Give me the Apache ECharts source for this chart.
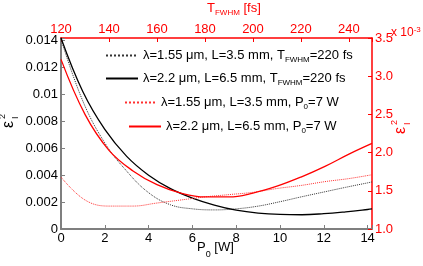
<!DOCTYPE html>
<html><head><meta charset="utf-8">
<script src="https://cdn.jsdelivr.net/npm/echarts@6/dist/echarts.min.js"></script>
<style>html,body{margin:0;padding:0;background:#fff}#c{width:423px;height:266px}</style>
</head><body><div id="c"></div>
<script>
// Bottom axis: P0 [W]; left axis: eps^2 (black curves, T_FWHM = 220 fs)
const P0 = [0, 1, 2, 3, 4, 5, 6, 7, 8, 9, 10, 11, 12, 13, 14, 14.2];
const blackDotted = [0.0141, 0.0095, 0.0064, 0.0043, 0.0027, 0.0018, 0.0015, 0.00142, 0.0015, 0.0017, 0.00203, 0.0024, 0.00275, 0.0031, 0.00343, 0.0035];
const blackSolid = [0.0142, 0.0102, 0.0074, 0.0054, 0.0040, 0.0030, 0.0023, 0.00178, 0.0014, 0.00118, 0.00108, 0.00106, 0.00114, 0.00128, 0.00145, 0.00149];
// Top axis: T_FWHM [fs]; right axis: eps^2 x 10^-3 (red curves, P0 = 7 W)
const TFWHM = [120, 130, 140, 150, 160, 170, 180, 190, 200, 210, 220, 230, 240, 249.6];
const redDotted = [1.68, 1.38, 1.30, 1.30, 1.34, 1.38, 1.42, 1.45, 1.48, 1.53, 1.57, 1.62, 1.66, 1.71];
const redSolid = [3.22, 2.50, 2.03, 1.76, 1.58, 1.47, 1.42, 1.42, 1.47, 1.56, 1.68, 1.82, 1.98, 2.12];
const legendParts = [
  ['λ=1.55 μm, L=3.5 mm, T', 'FWHM', '=220 fs'],
  ['λ=2.2 μm, L=6.5 mm, T', 'FWHM', '=220 fs'],
  ['λ=1.55 μm, L=3.5 mm, P', '0', '=7 W'],
  ['λ=2.2 μm, L=6.5 mm, P', '0', '=7 W']
];
const seriesNames = legendParts.map(p => p.join(''));

const FONT = 'Liberation Sans';
const RED = '#ff0000';
const GRAY = '#7f7f7f';
const zip = (xs, ys) => xs.map((x, i) => [x, ys[i]]);
const isMult = (v, step) => Math.abs(v / step - Math.round(v / step)) < 1e-6;

const richLegend = {
  a: {fontSize: 13, fontFamily: FONT, color: '#000', lineHeight: 16},
  s: {fontSize: 8, fontFamily: FONT, color: '#000', lineHeight: 8, verticalAlign: 'bottom'}
};
function legendFor(i, left, top, width) {
  return {
    data: [seriesNames[i]], left: left, top: top, padding: 0, itemGap: 0,
    itemWidth: width, itemHeight: 12, selectedMode: false,
    itemStyle: {opacity: 0, borderWidth: 0},
    formatter: name => {
      const p = legendParts[seriesNames.indexOf(name)];
      return '{a|' + p[0] + '}{s|' + p[1] + '}{a|' + p[2] + '}';
    },
    textStyle: {rich: richLegend, fontFamily: FONT, fontSize: 13}
  };
}

const chart = echarts.init(document.getElementById('c'));
chart.setOption({
  animation: false,
  backgroundColor: '#fff',
  grid: {left: 61, right: 51, top: 38, bottom: 37, containLabel: false, outerBoundsMode: 'none'},
  xAxis: [
    {type: 'value', position: 'bottom', min: 0, max: 14.2, interval: 2,
      axisLine: {show: true, lineStyle: {color: GRAY, width: 2}},
      axisTick: {show: true, inside: true, length: 4, lineStyle: {color: GRAY}},
      axisLabel: {color: '#000', fontSize: 13, fontFamily: FONT, margin: 3,
        formatter: v => isMult(v, 2) ? String(v) : ''},
      splitLine: {show: false}},
    {type: 'value', position: 'top', min: 120, max: 249.6, interval: 20,
      axisLine: {show: true, lineStyle: {color: RED, width: 1.5}},
      axisTick: {show: true, inside: true, length: 4, lineStyle: {color: RED}},
      axisLabel: {color: RED, fontSize: 13, fontFamily: FONT, margin: 2,
        formatter: v => isMult(v, 20) ? String(v) : ''},
      splitLine: {show: false}}
  ],
  yAxis: [
    {type: 'value', position: 'left', min: 0, max: 0.0142, interval: 0.002,
      axisLine: {show: true, lineStyle: {color: GRAY, width: 2}},
      axisTick: {show: true, inside: true, length: 4, lineStyle: {color: GRAY}},
      axisLabel: {color: '#000', fontSize: 13, fontFamily: FONT, margin: 3,
        formatter: v => isMult(v, 0.002) ? String(+v.toFixed(3)) : ''},
      splitLine: {show: false}},
    {type: 'value', position: 'right', min: 1.0, max: 3.5, interval: 0.5,
      axisLine: {show: true, lineStyle: {color: RED, width: 1.5}},
      axisTick: {show: true, inside: true, length: 4, lineStyle: {color: RED}},
      axisLabel: {color: RED, fontSize: 13, fontFamily: FONT, margin: 3,
        formatter: v => isMult(v, 0.5) ? v.toFixed(1) : ''},
      splitLine: {show: false}}
  ],
  legend: [
    legendFor(0, 105, 49, 32),
    legendFor(1, 105, 72, 32),
    legendFor(2, 124, 96, 31),
    legendFor(3, 128, 120, 32)
  ],
  series: [
    {name: seriesNames[0], type: 'line', xAxisIndex: 0, yAxisIndex: 0, data: zip(P0, blackDotted),
      smooth: 0.4, symbol: 'none', lineStyle: {color: '#333', width: 1, type: 'dotted'}, itemStyle: {color: '#333'}},
    {name: seriesNames[1], type: 'line', xAxisIndex: 0, yAxisIndex: 0, data: zip(P0, blackSolid),
      smooth: 0.4, symbol: 'none', lineStyle: {color: '#000', width: 1.3}, itemStyle: {color: '#000'}},
    {name: seriesNames[2], type: 'line', xAxisIndex: 1, yAxisIndex: 1, data: zip(TFWHM, redDotted),
      smooth: 0.4, symbol: 'none', lineStyle: {color: '#ff3030', width: 1, type: 'dotted'}, itemStyle: {color: '#ff3030'}},
    {name: seriesNames[3], type: 'line', xAxisIndex: 1, yAxisIndex: 1, data: zip(TFWHM, redSolid),
      smooth: 0.4, symbol: 'none', lineStyle: {color: RED, width: 1.3}, itemStyle: {color: RED}}
  ],
  graphic: [
    {type: 'text', left: 207, top: 2, style: {
      text: '{a|T}{s|FWHM}{a| [fs]}',
      rich: {a: {fontSize: 13, fontFamily: FONT, fill: RED, lineHeight: 16},
             s: {fontSize: 8, fontFamily: FONT, fill: RED, lineHeight: 8, verticalAlign: 'bottom'}}}},
    {type: 'text', left: 197, top: 241, style: {
      text: '{a|P}{s|0}{a| [W]}',
      rich: {a: {fontSize: 13, fontFamily: FONT, fill: '#000', lineHeight: 16},
             s: {fontSize: 9, fontFamily: FONT, fill: '#000', lineHeight: 9, verticalAlign: 'bottom', padding: [0, 0, -4, 0]}}}},
    {type: 'text', left: 391, top: 26, style: {
      text: '{a|x 10}{s|-3}',
      rich: {a: {fontSize: 12, fontFamily: FONT, fill: RED, lineHeight: 14},
             s: {fontSize: 8, fontFamily: FONT, fill: RED, lineHeight: 8, verticalAlign: 'top'}}}},
    {type: 'group', x: 9, y: 128, rotation: Math.PI / 2, children: [
      {type: 'text', x: 0, y: 0, style: {text: 'ε', fontSize: 16, fontFamily: FONT, fill: '#000', align: 'left', verticalAlign: 'middle'}},
      {type: 'text', x: 9, y: -6, style: {text: '2', fontSize: 9, fontFamily: FONT, fill: '#000', align: 'left', verticalAlign: 'middle'}},
      {type: 'text', x: 9, y: 7, style: {text: 'I', fontSize: 9, fontFamily: FONT, fill: '#000', align: 'left', verticalAlign: 'middle'}}
    ]},
    {type: 'group', x: 401, y: 134, rotation: Math.PI / 2, children: [
      {type: 'text', x: 0, y: 0, style: {text: 'ε', fontSize: 16, fontFamily: FONT, fill: RED, align: 'left', verticalAlign: 'middle'}},
      {type: 'text', x: 9, y: -6, style: {text: '2', fontSize: 9, fontFamily: FONT, fill: RED, align: 'left', verticalAlign: 'middle'}},
      {type: 'text', x: 9, y: 7, style: {text: 'I', fontSize: 9, fontFamily: FONT, fill: RED, align: 'left', verticalAlign: 'middle'}}
    ]}
  ]
});
</script>
</body></html>
